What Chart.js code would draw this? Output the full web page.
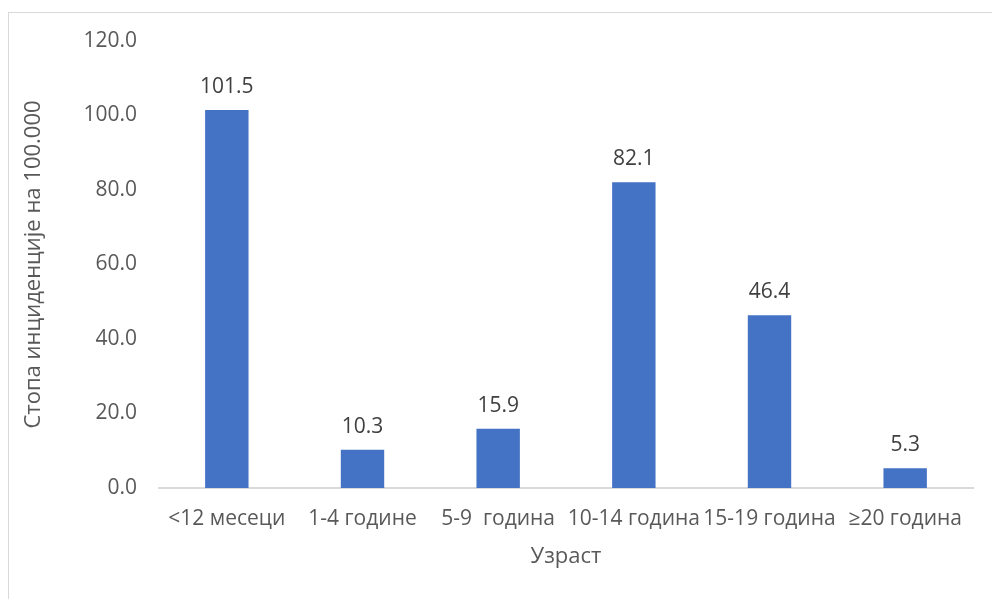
<!DOCTYPE html>
<html>
<head>
<meta charset="utf-8">
<script src="https://cdn.jsdelivr.net/npm/chart.js@4.4.0/dist/chart.umd.min.js"></script>
<style>
    body { margin: 0; background: #fff; overflow: hidden; }
    #frame {
        position: absolute; left: 8px; top: 12px; width: 2000px; height: 2000px;
        border-left: 1px solid #d9d9d9; border-top: 1px solid #d9d9d9;
    }
    #wrap { position: absolute; left: 0; top: 0; width: 992px; height: 599px; }
</style>
</head>
<body>
<div id="frame"></div>
<div id="wrap"><canvas id="incidenceChart"></canvas></div>
<script>
const categories = ['<12 месеци', '1-4 године', '5-9  година', '10-14 година', '15-19 година', '≥20 година'];
const rates = [101.5, 10.3, 15.9, 82.1, 46.4, 5.3];
const yTicks = [0, 20, 40, 60, 80, 100, 120];

const fontFamily = "'Open Sans', sans-serif";

// ispis vrednosti iznad stubova
const valueLabels = {
    id: 'valueLabels',
    afterDatasetsDraw(chart) {
        const ctx = chart.ctx;
        ctx.save();
        ctx.font = '21px ' + fontFamily;
        ctx.fillStyle = '#404040';
        ctx.textAlign = 'center';
        ctx.textBaseline = 'alphabetic';
        chart.getDatasetMeta(0).data.forEach((bar, i) => {
            ctx.fillText(rates[i].toFixed(1), bar.x, bar.y - 17);
        });
        ctx.restore();
    }
};

const ctx = document.getElementById('incidenceChart').getContext('2d');
const incidenceChart = new Chart(ctx, {
    type: 'bar',
    data: {
        labels: categories,
        datasets: [{
            data: rates,
            backgroundColor: '#4472C4',
            barPercentage: 1,
            categoryPercentage: 0.32
        }]
    },
    options: {
        responsive: true,
        maintainAspectRatio: false,
        animation: false,
        layout: { padding: { top: 41, right: 19, left: 0, bottom: 0 } },
        plugins: {
            legend: { display: false },
            tooltip: { enabled: false }
        },
        scales: {
            x: {
                grid: { display: false, drawTicks: false },
                border: { display: true, color: '#d9d9d9', width: 2 },
                ticks: {
                    color: '#595959',
                    font: { family: fontFamily, size: 21 },
                    padding: 18,
                    maxRotation: 0,
                    autoSkip: false
                },
                title: {
                    display: true,
                    text: 'Узраст',
                    color: '#595959',
                    font: { family: fontFamily, size: 22 },
                    padding: { top: 0, bottom: 29 }
                },
                afterFit(scale) { scale.height = 111; }
            },
            y: {
                min: 0,
                max: 120,
                afterBuildTicks(scale) { scale.ticks = yTicks.map(v => ({ value: v })); },
                grid: { display: false, drawTicks: false },
                border: { display: false },
                ticks: {
                    color: '#595959',
                    font: { family: fontFamily, size: 21 },
                    padding: 22,
                    callback: v => v.toFixed(1)
                },
                title: {
                    display: true,
                    text: 'Стопа инциденције на 100.000',
                    color: '#595959',
                    font: { family: fontFamily, size: 22 },
                    padding: { top: 21, bottom: 0 }
                },
                afterFit(scale) { scale.width = 159; }
            }
        }
    },
    plugins: [valueLabels]
});
</script>
</body>
</html>
